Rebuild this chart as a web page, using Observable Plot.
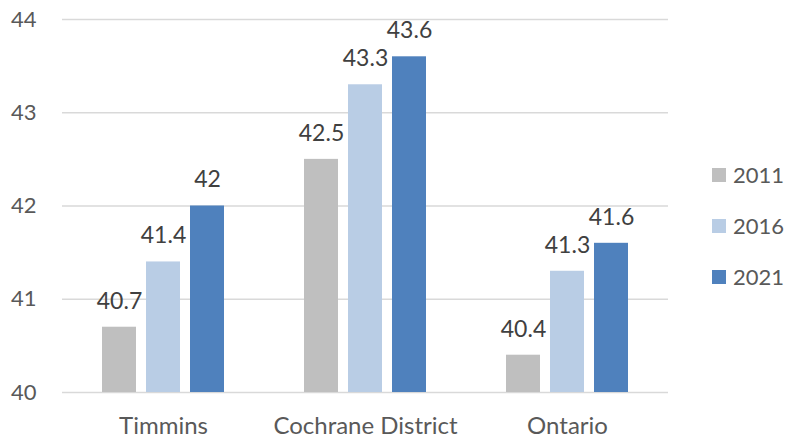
<!DOCTYPE html>
<html>
<head>
<meta charset="utf-8">
<script src="https://cdn.jsdelivr.net/npm/d3@7"></script>
<script src="https://cdn.jsdelivr.net/npm/@observablehq/plot@0.6"></script>
<style>
  html, body { margin: 0; padding: 0; background: #fff; }
  #wrap { position: relative; width: 788px; height: 440px; font-family: Lato, "Open Sans", sans-serif; }
  #legend { position: absolute; left: 712px; top: 149px; }
  .item { display: flex; align-items: center; height: 51px; font-size: 22px; color: #595959; }
  .sw { width: 14px; height: 14px; margin-right: 7px; }
</style>
</head>
<body>
<div id="wrap"><div id="chart"></div><div id="legend"></div></div>
<script>
const categories = ["Timmins", "Cochrane District", "Ontario"];
const years = ["2011", "2016", "2021"];
const values2011 = [40.7, 42.5, 40.4];
const values2016 = [41.4, 43.3, 41.3];
const values2021 = [42, 43.6, 41.6];
const yTicks = [40, 41, 42, 43, 44];
const colors = ["#BFBFBF", "#B9CDE5", "#4F81BD"];

const series = [values2011, values2016, values2021];
const data = [];
categories.forEach((c, i) => years.forEach((y, j) => data.push({category: c, year: y, value: series[j][i]})));

const chart = Plot.plot({
  width: 670,
  height: 440,
  marginLeft: 61,
  marginRight: 2,
  marginTop: 19,
  marginBottom: 48,
  style: {fontFamily: "Lato, 'Open Sans', sans-serif", fontSize: "22px", color: "#595959", background: "#fff"},
  fx: {domain: categories, padding: 0, label: null},
  x: {domain: years, axis: null, paddingInner: 0.222, paddingOuter: 0.856},
  y: {domain: [40, 44], ticks: yTicks, tickSize: 0, tickPadding: 26, label: null, tickFormat: d3.format("d")},
  color: {domain: years, range: colors},
  marks: [
    Plot.ruleY(yTicks, {stroke: "#D9D9D9", strokeWidth: 1.5}),
    Plot.axisFx({anchor: "bottom", tickSize: 0, tickPadding: 24, fontSize: 24, label: null}),
    Plot.barY(data, {fx: "category", x: "year", y1: 40, y2: "value", fill: "year"}),
    Plot.text(data, {fx: "category", x: "year", y: "value", text: d => String(d.value), dy: -26, fill: "#404040", fontSize: 23})
  ]
});
document.getElementById("chart").appendChild(chart);

const legend = document.getElementById("legend");
years.forEach((y, i) => {
  const it = document.createElement("div");
  it.className = "item";
  it.innerHTML = `<div class="sw" style="background:${colors[i]}"></div><span>${y}</span>`;
  legend.appendChild(it);
});
</script>
</body>
</html>
